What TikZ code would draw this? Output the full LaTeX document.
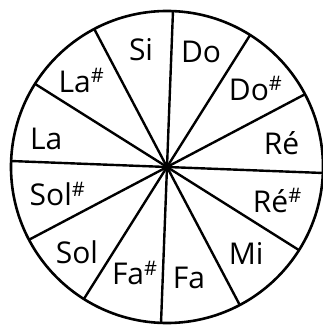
\documentclass[tikz,border=0pt]{standalone}
\usepackage{fontspec}
\setmainfont{Open Sans}
\usepackage{tikz}

\tikzset{
  note/.style={font=\fontsize{30}{34}\selectfont,inner sep=0pt,anchor=center},
  rim/.style={line width=2.6pt},
  spoke/.style={line width=2.4pt}
}
\newcommand{\sharpsup}{\raisebox{0.6ex}{\fontsize{20}{23}\selectfont\#}}

\begin{document}
\begin{tikzpicture}[x=1pt,y=1pt]
\useasboundingbox (-167,-159) rectangle (156,167);
\coordinate (c) at (0,0);
\draw[rim] (c) circle (156);
% spokes, rotated a little clockwise
\draw[spoke] (c) -- (87.8:156);
\draw[spoke] (c) -- (57.8:156);
\draw[spoke] (c) -- (27.8:156);
\draw[spoke] (c) -- (-2.2:156);
\draw[spoke] (c) -- (-32.2:156);
\draw[spoke] (c) -- (-62.2:156);
\draw[spoke] (c) -- (-92.2:156);
\draw[spoke] (c) -- (-122.2:156);
\draw[spoke] (c) -- (-152.2:156);
\draw[spoke] (c) -- (177.8:156);
\draw[spoke] (c) -- (147.8:156);
\draw[spoke] (c) -- (117.8:156);
\fill (c) circle (2.8);
% notes
\node[note] (do) at (73.5:120) {Do};
\node[note] (dos) at (41.5:118) {Do\sharpsup};
\node[note] (re) at (12:117) {Ré};
\node[note] (res) at (-16.8:115) {Ré\sharpsup};
\node[note] (mi) at (-47.4:117) {Mi};
\node[note] (fa) at (-78.8:113) {Fa};
\node[note] (fas) at (-107:111) {Fa\sharpsup};
\node[note] (sol) at (-136.6:124) {Sol};
\node[note] (sols) at (-166.2:113) {Sol\sharpsup};
\node[note] (la) at (167:124) {La};
\node[note] (las) at (134.7:122) {La\sharpsup};
\node[note] (si) at (102.5:120) {Si};
\end{tikzpicture}
\end{document}
